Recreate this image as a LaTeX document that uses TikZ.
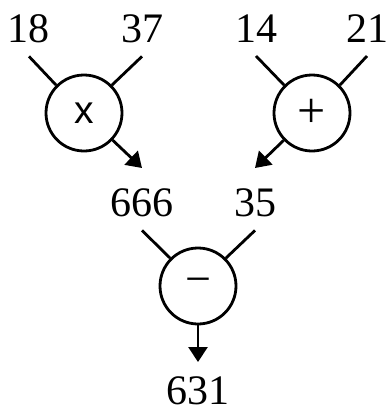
\documentclass[tikz,border=0pt]{standalone}
\usepackage{fontspec}
\setmainfont{Liberation Serif}
\setsansfont{Liberation Sans}
\usetikzlibrary{arrows.meta}
\begin{document}
\begin{tikzpicture}[x=1pt,y=-1pt, line width=2.8pt,
  num/.style={font=\fontsize{42}{48}\selectfont, anchor=base, inner xsep=0pt, inner ysep=14pt, outer sep=0pt},
  op/.style={circle, draw, minimum size=76pt, inner sep=0pt},
  arr/.style={-{Triangle[length=15pt,width=19pt]}}]
\useasboundingbox (0,0) rectangle (387,413);
% top row
\node[num] (a18) at (29,42) {18};
\node[num] (a37) at (142,42) {37};
\node[num] (a14) at (256,42) {14};
\node[num] (a21) at (367,42) {21};
% operators
\node[op, font=\sffamily\fontsize{39}{44}\selectfont] (m1) at (84,113) {x};
\node[op, font=\fontsize{50}{54}\selectfont] (m2) at (312,113) {+};
% middle row
\node[num] (r666) at (142,216) {666};
\node[num] (r35) at (255,216) {35};
\node[op, font=\fontsize{46}{50}\selectfont] (m3) at (198,286) {−};
% result
\node[num, inner ysep=0pt] (r631) at (198,404) {631};
\coordinate (t1) at (142,168);
\coordinate (t2) at (255,168);
\coordinate (t3) at (198,362);
% connectors
\draw (a18.south) -- (m1.135);
\draw (a37.south) -- (m1.45);
\draw (a14.south) -- (m2.135);
\draw (a21.south) -- (m2.45);
\draw[arr] (m1) -- (t1);
\draw[arr] (m2) -- (t2);
\draw (r666.south) -- (m3.135);
\draw (r35.south) -- (m3.45);
\draw[arr] (m3) -- (t3);
\end{tikzpicture}
\end{document}
